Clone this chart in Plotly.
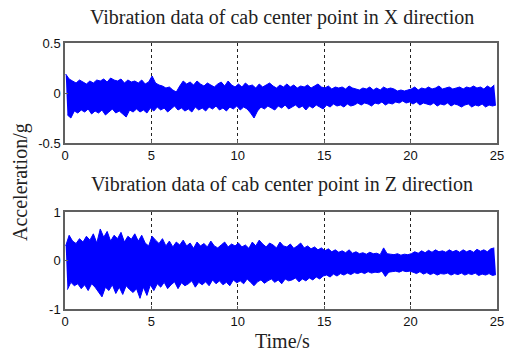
import plotly.graph_objects as go

# ---- data: per-0.2 s envelope (max / min) ----
bin_width = 0.2  # seconds per envelope bin

x_dir_upper = [
    0.19, 0.14, 0.12, 0.10, 0.13,  0.11, 0.09, 0.12, 0.10, 0.13,
    0.12, 0.14, 0.11, 0.15, 0.13,  0.12, 0.14, 0.10, 0.13, 0.11,
    0.12, 0.10, 0.13, 0.09, 0.11,  0.17, 0.10, 0.08, 0.07, 0.05,
    0.06, 0.03, 0.01, 0.07, 0.12,  0.09, 0.11, 0.08, 0.12, 0.09,
    0.07, 0.10, 0.08, 0.06, 0.09,  0.11, 0.07, 0.12, 0.08, 0.06,
    0.09, 0.06, 0.10, 0.07, 0.08,  0.05, 0.09, 0.06, 0.08, 0.10,
    0.07, 0.05, 0.08, 0.06, 0.09,  0.06, 0.08, 0.05, 0.07, 0.06,
    0.08, 0.05, 0.07, 0.09, 0.06,  0.05, 0.07, 0.04, 0.06, 0.05,
    0.06, 0.04, 0.07, 0.05, 0.04,  0.03, 0.05, 0.04, 0.06, 0.03,
    0.05, 0.03, 0.06, 0.04, 0.05,  0.04, 0.02, 0.03, 0.02, 0.03,
    0.04, 0.06, 0.03, 0.05, 0.04,  0.06, 0.04, 0.05, 0.07, 0.04,
    0.05, 0.06, 0.04, 0.05, 0.06,  0.04, 0.06, 0.05, 0.07, 0.05,
    0.06, 0.04, 0.07, 0.05, 0.08,
]
x_dir_lower = [
    -0.22, -0.25, -0.18, -0.20, -0.17,  -0.19, -0.16, -0.21, -0.18, -0.20,
    -0.17, -0.22, -0.19, -0.16, -0.20,  -0.18, -0.21, -0.24, -0.17, -0.19,
    -0.16, -0.19, -0.17, -0.20, -0.15,  -0.18, -0.14, -0.17, -0.15, -0.19,
    -0.16, -0.13, -0.17, -0.15, -0.18,  -0.16, -0.19, -0.14, -0.17, -0.15,
    -0.18, -0.14, -0.16, -0.13, -0.17,  -0.15, -0.18, -0.14, -0.16, -0.13,
    -0.17, -0.14, -0.16, -0.20, -0.25,  -0.18, -0.14, -0.16, -0.13, -0.15,
    -0.17, -0.13, -0.15, -0.12, -0.16,  -0.14, -0.12, -0.15, -0.13, -0.17,
    -0.13, -0.15, -0.12, -0.14, -0.16,  -0.12, -0.14, -0.11, -0.13, -0.12,
    -0.14, -0.11, -0.13, -0.12, -0.10,  -0.12, -0.10, -0.11, -0.13, -0.10,
    -0.11, -0.09, -0.12, -0.10, -0.11,  -0.09, -0.10, -0.08, -0.10, -0.09,
    -0.11, -0.09, -0.12, -0.10, -0.11,  -0.12, -0.10, -0.13, -0.11, -0.12,
    -0.10, -0.13, -0.11, -0.12, -0.14,  -0.12, -0.11, -0.14, -0.12, -0.13,
    -0.11, -0.14, -0.12, -0.13, -0.12,
]
z_dir_upper = [
    0.30, 0.52, 0.40, 0.35, 0.45,  0.38, 0.50, 0.42, 0.55, 0.36,
    0.65, 0.48, 0.60, 0.40, 0.52,  0.45, 0.58, 0.38, 0.50, 0.44,
    0.55, 0.40, 0.52, 0.36, 0.30,  0.50, 0.42, 0.35, 0.45, 0.30,
    0.40, 0.28, 0.38, 0.32, 0.42,  0.30, 0.36, 0.25, 0.38, 0.30,
    0.35, 0.28, 0.40, 0.30, 0.26,  0.32, 0.38, 0.28, 0.34, 0.30,
    0.36, 0.28, 0.32, 0.25, 0.38,  0.30, 0.42, 0.34, 0.28, 0.36,
    0.32, 0.26, 0.38, 0.30, 0.28,  0.34, 0.25, 0.30, 0.36, 0.26,
    0.30, 0.24, 0.28, 0.22, 0.26,  0.20, 0.24, 0.18, 0.22, 0.17,
    0.20, 0.16, 0.22, 0.15, 0.18,  0.14, 0.16, 0.13, 0.17, 0.14,
    0.15, 0.12, 0.26, 0.14, 0.13,  0.12, 0.14, 0.11, 0.13, 0.12,
    0.14, 0.18, 0.15, 0.20, 0.16,  0.21, 0.17, 0.22, 0.18, 0.20,
    0.17, 0.22, 0.18, 0.21, 0.17,  0.22, 0.18, 0.21, 0.17, 0.23,
    0.19, 0.22, 0.18, 0.24, 0.26,
]
z_dir_lower = [
    -0.60, -0.45, -0.52, -0.48, -0.58,  -0.50, -0.62, -0.48, -0.55, -0.65,
    -0.75, -0.55, -0.62, -0.50, -0.68,  -0.55, -0.70, -0.52, -0.60, -0.66,
    -0.58, -0.78, -0.55, -0.72, -0.50,  -0.62, -0.48, -0.55, -0.45, -0.58,
    -0.50, -0.44, -0.58, -0.46, -0.52,  -0.48, -0.42, -0.55, -0.45, -0.50,
    -0.44, -0.52, -0.40, -0.48, -0.42,  -0.50, -0.45, -0.52, -0.40, -0.46,
    -0.42, -0.48, -0.38, -0.45, -0.52,  -0.44, -0.40, -0.47, -0.42, -0.38,
    -0.45, -0.40, -0.48, -0.38, -0.42,  -0.40, -0.36, -0.44, -0.38, -0.42,
    -0.36, -0.40, -0.34, -0.38, -0.32,  -0.30, -0.34, -0.28, -0.32, -0.27,
    -0.30, -0.26, -0.29, -0.25, -0.27,  -0.24, -0.27, -0.23, -0.26, -0.24,
    -0.25, -0.22, -0.33, -0.24, -0.23,  -0.22, -0.24, -0.21, -0.23, -0.22,
    -0.24, -0.27, -0.23, -0.28, -0.25,  -0.29, -0.26, -0.30, -0.27, -0.28,
    -0.26, -0.30, -0.27, -0.29, -0.26,  -0.30, -0.27, -0.29, -0.26, -0.31,
    -0.28, -0.30, -0.27, -0.31, -0.29,
]

x_ticks = [0, 5, 10, 15, 20, 25]
top_y_ticks = [-0.5, 0, 0.5]
top_y_labels = ["-0.5", "0", "0.5"]
bot_y_ticks = [-1, 0, 1]
bot_y_labels = ["-1", "0", "1"]

title_x = "Vibration data of cab center point in X direction"
title_z = "Vibration data of cab center point in Z direction"
y_label = "Acceleration/g"
x_label = "Time/s"

W, H = 506, 352
BLUE = "#0000FF"
fig = go.Figure()

for (up, lo, xa, ya) in [(x_dir_upper, x_dir_lower, "x", "y"),
                         (z_dir_upper, z_dir_lower, "x2", "y2")]:
    t_up = [i * bin_width + 0.04 for i in range(len(up))]
    t_lo = [i * bin_width + 0.14 for i in range(len(lo))]
    # upper envelope edge
    fig.add_trace(go.Scatter(x=t_up, y=up, mode="lines",
                             line=dict(color=BLUE, width=1, simplify=False),
                             xaxis=xa, yaxis=ya, showlegend=False, hoverinfo="skip"))
    # lower envelope edge, solid band filled up to the upper edge
    fig.add_trace(go.Scatter(x=t_lo, y=lo, mode="lines", fill="tonexty", fillcolor=BLUE,
                             line=dict(color=BLUE, width=1, simplify=False),
                             xaxis=xa, yaxis=ya, showlegend=False, hoverinfo="skip"))

left, right = 65 / W, 497 / W
axis_common = dict(showline=True, mirror=True, linecolor="#606060", linewidth=1.5,
                   ticks="inside", ticklen=3, tickcolor="#606060", zeroline=False,
                   automargin=False, ticklabeloverflow="allow",
                   tickfont=dict(family="Liberation Sans, Arial", size=13, color="#111111"))
grid = dict(showgrid=True, gridcolor="#222222", gridwidth=1, griddash="dot")

fig.update_layout(
    width=W, height=H, margin=dict(l=0, r=0, t=0, b=0),
    paper_bgcolor="white", plot_bgcolor="white",
    xaxis=dict(domain=[left, right], range=[0, 25], tickvals=x_ticks, anchor="y",
               **grid, **axis_common),
    yaxis=dict(domain=[1 - 143 / H, 1 - 43 / H], range=[-0.5, 0.5], tickvals=top_y_ticks,
               ticktext=top_y_labels, anchor="x", showgrid=False, **axis_common),
    xaxis2=dict(domain=[left, right], range=[0, 25], tickvals=x_ticks, anchor="y2",
                **grid, **axis_common),
    yaxis2=dict(domain=[1 - 309 / H, 1 - 212 / H], range=[-1, 1], tickvals=bot_y_ticks,
                ticktext=bot_y_labels, anchor="x2", showgrid=False, **axis_common),
)

serif = dict(family="Liberation Serif, Times New Roman", size=20, color="#222222")
fig.add_annotation(text=title_x, x=282 / W, y=1 - 17 / H, xref="paper", yref="paper",
                   showarrow=False, font=serif, xanchor="center", yanchor="middle")
fig.add_annotation(text=title_z, x=282 / W, y=1 - 185 / H, xref="paper", yref="paper",
                   showarrow=False, font=serif, xanchor="center", yanchor="middle")
fig.add_annotation(text=y_label, x=20 / W, y=1 - 182 / H, xref="paper", yref="paper",
                   showarrow=False, font=serif, textangle=-90, xanchor="center", yanchor="middle")
fig.add_annotation(text=x_label, x=282 / W, y=1 - 341 / H, xref="paper", yref="paper",
                   showarrow=False, font=serif, xanchor="center", yanchor="middle")

fig.write_html("out.html", config={"displayModeBar": False},
               post_script="document.body.style.margin='0';")
